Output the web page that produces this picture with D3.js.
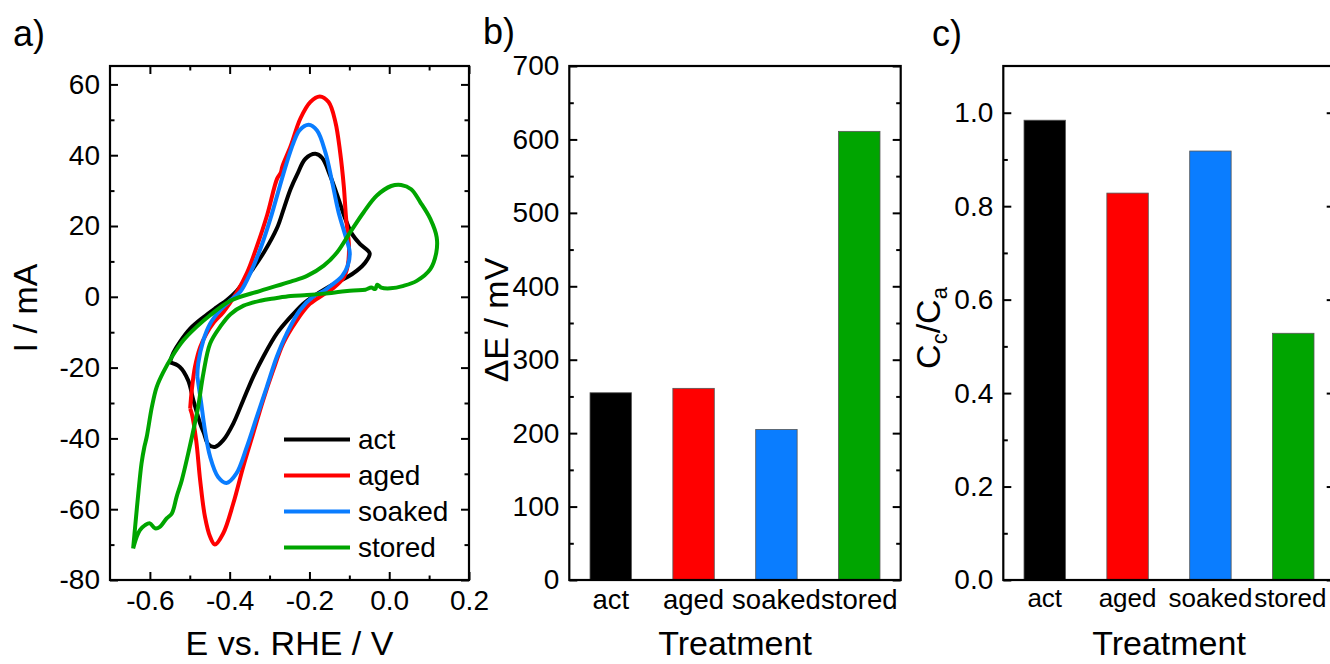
<!DOCTYPE html>
<html>
<head>
<meta charset="utf-8">
<script src="https://cdn.jsdelivr.net/npm/d3@7"></script>
<style>
  html, body { margin: 0; background: #fff; }
  svg { display: block; }
</style>
</head>
<body>
<svg id="svg" width="1330" height="664"></svg>
<script>
// ── DATA ────────────────────────────────────────────────────────────────────
// cyclic voltammograms, [E vs RHE / V, I / mA]
const cvAct = [
  [-0.550,-18.5],[-0.541,-15.8],[-0.525,-12.8],[-0.499,-9.0],[-0.466,-5.8],[-0.433,-3.0],
  [-0.407,-0.9],[-0.382,1.7],[-0.348,6.9],[-0.314,12.6],[-0.281,19.5],[-0.264,25.0],
  [-0.247,30.5],[-0.231,34.5],[-0.210,39.0],[-0.185,40.4],[-0.168,39.2],[-0.148,34.2],
  [-0.127,27.6],[-0.110,22.0],[-0.093,17.7],[-0.073,14.9],[-0.049,12.3],
  [-0.060,9.7],[-0.081,7.4],[-0.106,5.5],[-0.139,3.6],[-0.175,1.2],[-0.202,-0.8],
  [-0.216,-2.0],[-0.249,-5.9],[-0.282,-10.4],[-0.316,-17.0],[-0.341,-22.6],[-0.366,-29.2],
  [-0.391,-35.8],[-0.416,-40.5],[-0.437,-42.4],[-0.454,-41.6],[-0.464,-38.7],[-0.474,-35.8],
  [-0.491,-29.2],[-0.504,-23.6],[-0.525,-19.8],[-0.550,-18.5]
];
const cvAged = [
  [-0.499,-31.6],[-0.495,-26.4],[-0.487,-19.8],[-0.474,-14.2],[-0.458,-10.4],[-0.440,-7.3],
  [-0.415,-4.2],[-0.382,1.3],[-0.356,6.9],[-0.331,14.5],[-0.306,23.1],[-0.281,33.4],
  [-0.272,35.0],[-0.268,36.8],[-0.247,42.6],[-0.223,50.3],[-0.198,55.0],[-0.174,56.6],
  [-0.152,55.0],[-0.135,49.4],[-0.123,40.8],[-0.114,31.4],[-0.108,22.0],[-0.101,14.5],
  [-0.104,8.8],[-0.114,5.5],[-0.139,2.6],[-0.165,0.6],[-0.199,-2.0],[-0.232,-6.7],
  [-0.266,-13.2],[-0.291,-20.8],[-0.316,-29.2],[-0.341,-38.6],[-0.366,-48.0],[-0.391,-58.4],
  [-0.416,-66.8],[-0.437,-70.0],[-0.449,-67.8],[-0.462,-62.1],[-0.474,-51.8],[-0.484,-40.5],
  [-0.495,-33.0],[-0.499,-31.6]
];
const cvSoaked = [
  [-0.481,-22.6],[-0.479,-18.9],[-0.466,-12.3],[-0.449,-7.6],[-0.424,-3.8],[-0.398,-1.0],
  [-0.373,1.5],[-0.345,7.5],[-0.320,14.5],[-0.298,22.0],[-0.275,31.0],[-0.258,37.5],
  [-0.240,43.5],[-0.225,47.0],[-0.202,48.6],[-0.181,47.0],[-0.160,40.8],[-0.143,32.4],
  [-0.127,23.9],[-0.110,17.3],[-0.099,12.5],[-0.104,8.8],[-0.118,5.9],[-0.147,3.1],
  [-0.165,1.6],[-0.190,0.1],[-0.224,-3.8],[-0.257,-10.4],[-0.282,-17.0],[-0.307,-25.5],
  [-0.332,-33.9],[-0.357,-42.4],[-0.383,-49.9],[-0.408,-52.6],[-0.429,-50.9],[-0.449,-45.2],
  [-0.462,-37.7],[-0.472,-29.5],[-0.481,-22.6]
];
const cvStored = [
  [-0.642,-71.1],[-0.637,-65.0],[-0.629,-55.5],[-0.621,-47.1],[-0.614,-42.5],[-0.608,-39.6],
  [-0.595,-31.1],[-0.583,-25.5],[-0.566,-21.2],[-0.545,-17.0],[-0.516,-12.3],[-0.483,-8.5],
  [-0.449,-5.2],[-0.398,-1.1],[-0.323,1.7],[-0.247,4.3],[-0.206,5.9],[-0.164,8.8],
  [-0.131,12.5],[-0.098,18.2],[-0.064,23.9],[-0.031,28.6],[0.005,31.3],[0.030,31.6],
  [0.055,30.4],[0.078,26.7],[0.103,22.0],[0.119,16.8],[0.118,12.5],[0.103,7.8],
  [0.069,4.5],[0.036,3.1],[0.003,2.4],[-0.020,2.6],[-0.030,3.4],[-0.035,2.2],
  [-0.045,2.6],[-0.060,2.0],[-0.090,1.8],[-0.123,1.4],[-0.164,0.9],[-0.206,0.5],
  [-0.247,0.2],[-0.285,-0.4],[-0.323,-1.1],[-0.365,-2.5],[-0.398,-4.9],[-0.424,-8.5],
  [-0.449,-13.2],[-0.466,-21.7],[-0.479,-31.1],[-0.491,-37.7],[-0.504,-44.3],[-0.520,-51.8],
  [-0.533,-56.5],[-0.545,-61.2],[-0.558,-62.6],[-0.575,-65.0],[-0.587,-65.4],[-0.600,-64.0],
  [-0.612,-64.5],[-0.625,-65.9],[-0.633,-67.8],[-0.642,-71.1]
];

const treatments = ['act', 'aged', 'soaked', 'stored'];
const deltaE     = [255, 261, 205, 611];          // mV
const ccOverCa   = [0.984, 0.828, 0.918, 0.528];

const aTicksX = [-0.6, -0.4, -0.2, 0.0, 0.2],  aMinorX = [-0.5, -0.3, -0.1, 0.1];
const aTicksY = [-80, -60, -40, -20, 0, 20, 40, 60], aMinorY = [-70, -50, -30, -10, 10, 30, 50];
const bTicksY = [0, 100, 200, 300, 400, 500, 600, 700], bMinorY = [50, 150, 250, 350, 450, 550, 650];
const cTicksY = [0, 0.2, 0.4, 0.6, 0.8, 1.0], cMinorY = [0.1, 0.3, 0.5, 0.7, 0.9];

// ── STYLE ───────────────────────────────────────────────────────────────────
const FONT = '"Liberation Sans", Arial, Helvetica, sans-serif';
const colors = { act: '#000000', aged: '#ff0000', soaked: '#0a7dff', stored: '#00a500' };
const TOP = 66, BOT = 580;

const svg = d3.select('#svg');

function styleAxis(sel, size = 28) {
  sel.select('.domain').remove();
  sel.selectAll('line').attr('stroke', '#000').attr('stroke-width', 2);
  sel.selectAll('text').attr('fill', '#000');
  sel.attr('font-size', size).attr('font-family', FONT);
}

// inward ticks on left + right, labels on the left
function yAxes(y, x0, x1, major, minor, fmt) {
  const g = svg.append('g');
  g.append('g').attr('transform', `translate(${x0},0)`)
    .call(d3.axisLeft(y).tickValues(major).tickFormat(fmt).tickSizeInner(-8).tickSizeOuter(0).tickPadding(10))
    .call(styleAxis);
  g.append('g').attr('transform', `translate(${x0},0)`)
    .call(d3.axisLeft(y).tickValues(minor).tickFormat(() => '').tickSizeInner(-4.5).tickSizeOuter(0))
    .call(styleAxis);
  g.append('g').attr('transform', `translate(${x1},0)`)
    .call(d3.axisRight(y).tickValues(major).tickFormat(() => '').tickSizeInner(-8).tickSizeOuter(0))
    .call(styleAxis);
  g.append('g').attr('transform', `translate(${x1},0)`)
    .call(d3.axisRight(y).tickValues(minor).tickFormat(() => '').tickSizeInner(-4.5).tickSizeOuter(0))
    .call(styleAxis);
}

function frame(x0, x1) {
  svg.append('rect').attr('x', x0).attr('y', TOP).attr('width', x1 - x0).attr('height', BOT - TOP)
    .attr('fill', 'none').attr('stroke', '#000').attr('stroke-width', 2.2);
}

function label(x, y, txt, size, opts = {}) {
  return svg.append('text')
    .attr('transform', `translate(${x},${y})${opts.rot ? ' rotate(-90)' : ''}`)
    .attr('text-anchor', opts.anchor || 'middle')
    .attr('font-size', size).attr('font-family', FONT).attr('fill', '#000')
    .text(txt);
}

// ════════════════════════════════════════════════════════════════════════════
// a) CYCLIC VOLTAMMOGRAMS
// ════════════════════════════════════════════════════════════════════════════
const ax = d3.scaleLinear().domain([-0.7, 0.2]).range([110, 469]);
const ay = d3.scaleLinear().domain([-80, 65.2]).range([BOT, TOP]);

svg.append('clipPath').attr('id', 'clipA').append('rect')
  .attr('x', 110).attr('y', TOP).attr('width', 359).attr('height', BOT - TOP);

const line = d3.line().x(d => ax(d[0])).y(d => ay(d[1])).curve(d3.curveCatmullRom.alpha(0.5));
const series = [
  { name: 'act', pts: cvAct }, { name: 'aged', pts: cvAged },
  { name: 'soaked', pts: cvSoaked }, { name: 'stored', pts: cvStored }
];
svg.append('g').attr('clip-path', 'url(#clipA)')
  .selectAll('path').data(series).join('path')
  .attr('d', d => line(d.pts))
  .attr('fill', 'none').attr('stroke', d => colors[d.name])
  .attr('stroke-width', 4).attr('stroke-linejoin', 'round');

// x ticks bottom (labelled) + top
const fmt1 = d => d.toFixed(1);
svg.append('g').attr('transform', `translate(0,${BOT})`)
  .call(d3.axisBottom(ax).tickValues(aTicksX).tickFormat(fmt1).tickSizeInner(-8).tickSizeOuter(0).tickPadding(10))
  .call(styleAxis);
svg.append('g').attr('transform', `translate(0,${BOT})`)
  .call(d3.axisBottom(ax).tickValues(aMinorX).tickFormat(() => '').tickSizeInner(-4.5).tickSizeOuter(0))
  .call(styleAxis);
svg.append('g').attr('transform', `translate(0,${TOP})`)
  .call(d3.axisTop(ax).tickValues(aTicksX).tickFormat(() => '').tickSizeInner(-8).tickSizeOuter(0))
  .call(styleAxis);
svg.append('g').attr('transform', `translate(0,${TOP})`)
  .call(d3.axisTop(ax).tickValues(aMinorX).tickFormat(() => '').tickSizeInner(-4.5).tickSizeOuter(0))
  .call(styleAxis);
yAxes(ay, 110, 469, aTicksY, aMinorY, d => String(d));
frame(110, 469);

// legend
const leg = svg.append('g');
series.forEach((s, i) => {
  const yy = 439.5 + i * 36;
  leg.append('line').attr('x1', 284).attr('x2', 350).attr('y1', yy).attr('y2', yy)
    .attr('stroke', colors[s.name]).attr('stroke-width', 4.2);
  leg.append('text').attr('x', 358).attr('y', yy).attr('dy', '0.35em')
    .attr('font-size', 28).attr('font-family', FONT).attr('fill', '#000').text(s.name);
});

label(289.5, 655, 'E vs. RHE / V', 34);
label(37, 308, 'I / mA', 34, { rot: true });
label(13, 46, 'a)', 36, { anchor: 'start' });

// ════════════════════════════════════════════════════════════════════════════
// b) PEAK SEPARATION
// ════════════════════════════════════════════════════════════════════════════
const bx = d3.scaleBand().domain(treatments).range([569.3, 900.7]).paddingInner(0.5).paddingOuter(0.25);
const by = d3.scaleLinear().domain([0, 700]).range([BOT, TOP]);

svg.append('g').selectAll('rect').data(treatments).join('rect')
  .attr('x', d => bx(d)).attr('width', bx.bandwidth())
  .attr('y', (d, i) => by(deltaE[i])).attr('height', (d, i) => BOT - by(deltaE[i]))
  .attr('fill', d => colors[d]).attr('stroke', '#555').attr('stroke-width', 0.8);

svg.append('g').attr('transform', `translate(0,${BOT})`)
  .call(d3.axisBottom(bx).tickSize(0).tickPadding(9))
  .call(styleAxis, 27.5);
yAxes(by, 569.3, 900.7, bTicksY, bMinorY, d => String(d));
frame(569.3, 900.7);

label(735, 655, 'Treatment', 34);
label(508, 320, 'ΔE / mV', 34, { rot: true });
label(483, 44, 'b)', 36, { anchor: 'start' });

// ════════════════════════════════════════════════════════════════════════════
// c) CHARGE RATIO
// ════════════════════════════════════════════════════════════════════════════
const cx = d3.scaleBand().domain(treatments).range([1003.3, 1334.7]).paddingInner(0.5).paddingOuter(0.25);
const cy = d3.scaleLinear().domain([0, 1.1]).range([BOT, TOP]);

svg.append('g').selectAll('rect').data(treatments).join('rect')
  .attr('x', d => cx(d)).attr('width', cx.bandwidth())
  .attr('y', (d, i) => cy(ccOverCa[i])).attr('height', (d, i) => BOT - cy(ccOverCa[i]))
  .attr('fill', d => colors[d]).attr('stroke', '#555').attr('stroke-width', 0.8);

svg.append('g').attr('transform', `translate(0,${BOT})`)
  .call(d3.axisBottom(cx).tickSize(0).tickPadding(9))
  .call(styleAxis, 26)
  .selectAll('text').filter(d => d === 'stored').attr('dx', -3);
yAxes(cy, 1003.3, 1334.7, cTicksY, cMinorY, fmt1);
frame(1003.3, 1334.7);

label(1169, 655, 'Treatment', 34);
const cLab = label(940, 328, '', 34, { rot: true });
cLab.append('tspan').text('C');
cLab.append('tspan').attr('font-size', 22).attr('dy', 7).text('c');
cLab.append('tspan').attr('dy', -7).text('/C');
cLab.append('tspan').attr('font-size', 22).attr('dy', 7).text('a');
label(932, 46, 'c)', 36, { anchor: 'start' });
</script>
</body>
</html>
